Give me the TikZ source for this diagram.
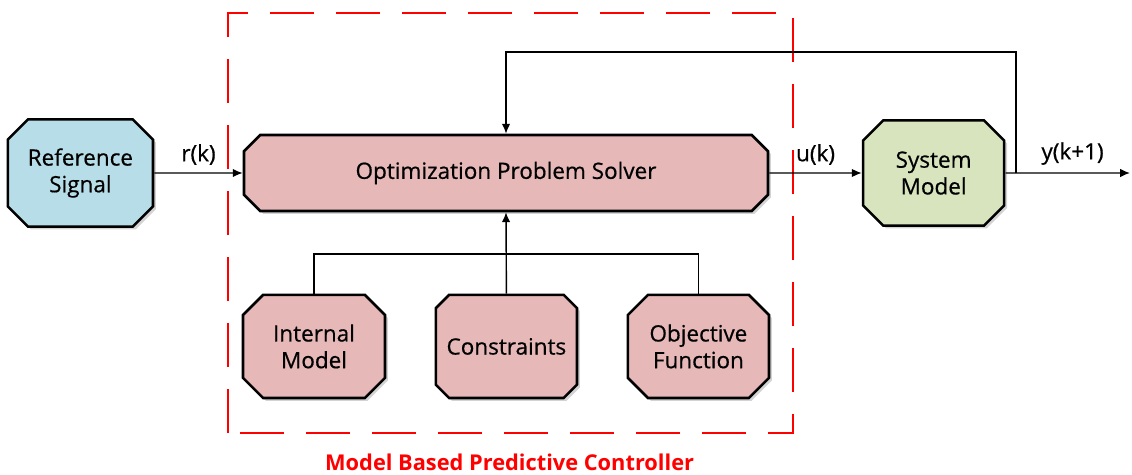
\documentclass[tikz,border=0pt]{standalone}
\usepackage{fontspec}
\setmainfont{Open Sans}
\newfontfamily\blockfont[FakeBold=0.6]{Open Sans}
\usetikzlibrary{arrows.meta,shapes.misc,shadows}

\definecolor{refblue}{HTML}{B7DEE8}
\definecolor{mpcpink}{HTML}{E6B9B8}
\definecolor{sysgreen}{HTML}{D7E4BD}

\begin{document}
\begin{tikzpicture}[
    >={Latex[length=7pt,width=6pt]},
    block/.style={chamfered rectangle, chamfered rectangle xsep=0.38cm, draw, line width=1.8pt,
        align=center, font=\blockfont\fontsize{16}{19}\selectfont, inner sep=0pt,
        drop shadow={shadow xshift=2pt, shadow yshift=-2pt, opacity=0.35}},
    wire/.style={line width=1pt},
    sig/.style={font=\blockfont\fontsize{16}{18}\selectfont}]
    \useasboundingbox (0,0) rectangle (28.3,11.85);
    % controller frame
    \draw[red, line width=2pt, dash pattern=on 1.1cm off 0.55cm] (5.7,1.025) rectangle (19.825,11.525);
    \node[red, font=\fontsize{15.5}{18}\selectfont\bfseries] (MPC) at (12.74,0.3) {Model Based Predictive Controller};
    % blocks
    \node[block, fill=refblue, minimum width=3.63cm, minimum height=2.68cm] (Ref) at (2.01,7.525) {Reference\\Signal};
    \node[block, fill=mpcpink, minimum width=13.1cm, minimum height=1.9cm] (Opt) at (12.65,7.525) {Optimization Problem Solver};
    \node[block, fill=sysgreen, minimum width=3.53cm, minimum height=2.63cm] (Sys) at (23.34,7.525) {System\\Model};
    \node[block, fill=mpcpink, minimum width=3.55cm, minimum height=2.58cm] (IntM) at (7.85,3.19) {Internal\\Model};
    \node[block, fill=mpcpink, minimum width=3.53cm, minimum height=2.58cm] (Con) at (12.66,3.19) {Constraints};
    \node[block, fill=mpcpink, minimum width=3.53cm, minimum height=2.58cm] (Obj) at (17.46,3.19) {Objective\\Function};
    \coordinate (Out) at (28.25,7.525);
    \coordinate (Tap) at (25.4,7.525);
    % signals
    \draw[wire, ->] (Ref) -- (Opt) node[sig, midway, above=2pt] {r(k)};
    \draw[wire, ->] (Opt) -- (Sys) node[sig, midway, above=2pt] {u(k)};
    \draw[wire, ->] (Sys) -- (Out) node[sig, midway, above=2pt, xshift=0.12cm] {y(k+1)};
    \draw[wire, ->] (Tap) |- (12.65,10.55) -- (Opt.north);
    \draw[wire] (IntM.north) |- (12.66,5.5) -| (Obj.north);
    \draw[wire, ->] (Con.north) -- (Opt.south);
\end{tikzpicture}
\end{document}
